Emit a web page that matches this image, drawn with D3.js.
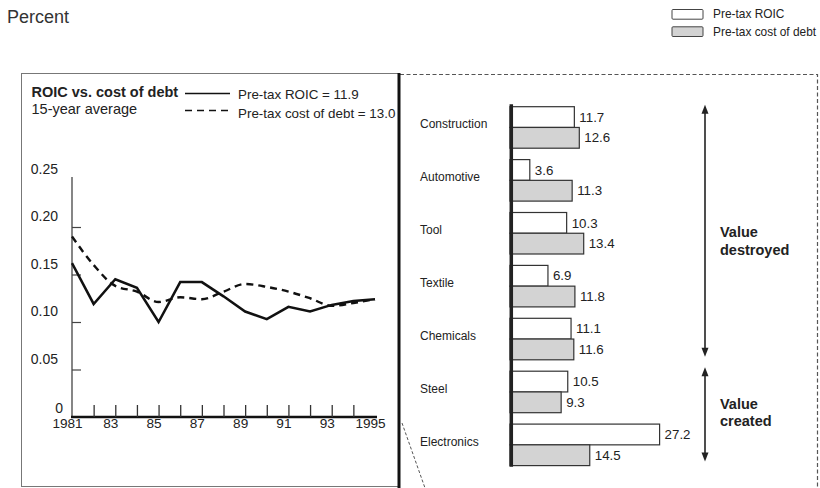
<!DOCTYPE html>
<html>
<head>
<meta charset="utf-8">
<script src="https://cdn.jsdelivr.net/npm/d3@7"></script>
<style>
  body { margin: 0; background: #fff; }
  svg { font-family: "Liberation Sans", Arial, sans-serif; }
</style>
</head>
<body>
<svg id="chart" width="820" height="488"></svg>
<script>
// left panel: 15-year series
var years = [1981, 1982, 1983, 1984, 1985, 1986, 1987, 1988, 1989, 1990, 1991, 1992, 1993, 1994, 1995];
var roic = [0.162, 0.119, 0.145, 0.136, 0.100, 0.142, 0.142, 0.127, 0.111, 0.103, 0.116, 0.111, 0.118, 0.122, 0.124];
var debt = [0.190, 0.160, 0.138, 0.132, 0.121, 0.126, 0.124, 0.132, 0.140, 0.137, 0.132, 0.125, 0.117, 0.120, 0.124];
var yTicks = [0, 0.05, 0.10, 0.15, 0.20, 0.25];
var yearLabels = {1981: "1981", 1983: "83", 1985: "85", 1987: "87", 1989: "89", 1991: "91", 1993: "93", 1995: "1995"};

// right panel: industries
var industries = ["Construction", "Automotive", "Tool", "Textile", "Chemicals", "Steel", "Electronics"];
var industryRoic = [11.7, 3.6, 10.3, 6.9, 11.1, 10.5, 27.2];
var industryDebt = [12.6, 11.3, 13.4, 11.8, 11.6, 9.3, 14.5];

var svg = d3.select("#chart");
var ink = "#222";

svg.append("text")
    .attr("x", 7).attr("y", 23)
    .attr("font-size", 18).attr("fill", "#333")
    .text("Percent");

// top right legend
var legend = svg.append("g");
[["Pre-tax ROIC", "#fff"], ["Pre-tax cost of debt", "#d3d3d3"]].forEach(function(d, i) {
    legend.append("rect")
        .attr("x", 672).attr("y", 9.5 + i * 17.3)
        .attr("width", 31).attr("height", 9.7)
        .attr("rx", 1)
        .attr("fill", d[1]).attr("stroke", "#444").attr("stroke-width", 1);
    legend.append("text")
        .attr("x", 713).attr("y", 18.3 + i * 17.3)
        .attr("font-size", 11.9).attr("fill", ink)
        .text(d[0]);
});

// frames
svg.append("rect")
    .attr("x", 21.5).attr("y", 73.5)
    .attr("width", 378).attr("height", 413)
    .attr("fill", "none").attr("stroke", "#777").attr("stroke-width", 1);
svg.append("path")
    .attr("d", "M400,74.5H817.5V488")
    .attr("fill", "none").attr("stroke", "#555")
    .attr("stroke-width", 1.2).attr("stroke-dasharray", "4,2.5");
svg.append("path")
    .attr("d", "M402,423L425,488")
    .attr("fill", "none").attr("stroke", "#555")
    .attr("stroke-width", 1).attr("stroke-dasharray", "3,2");
svg.append("line")
    .attr("x1", 399).attr("x2", 399).attr("y1", 73).attr("y2", 488)
    .attr("stroke", "#111").attr("stroke-width", 3);

// ---------- left chart ----------
var x = d3.scaleLinear().domain([1981, 1995]).range([72, 375]);
var y = d3.scaleLinear().domain([0, 0.25]).range([417, 179.5]);

var gy = svg.append("g")
    .attr("transform", "translate(72,0)")
    .call(d3.axisLeft(y)
        .tickValues(yTicks)
        .tickSizeInner(-9)
        .tickSizeOuter(0)
        .tickPadding(14)
        .tickFormat(function(d) { return d === 0 ? "0" : d3.format(".2f")(d); }));
gy.attr("font-size", 14).attr("font-family", null);
gy.select(".domain").attr("stroke", "#444").attr("stroke-width", 1.3)
    .attr("d", "M0," + y(0) + "V177");
gy.selectAll(".tick line")
    .attr("stroke", "#444").attr("stroke-width", 1.2)
    .filter(function(d) { return d === 0 || d === 0.25; }).remove();
gy.selectAll(".tick text")
    .attr("fill", ink)
    .attr("dy", function(d) { return d === 0 ? -5 : -6.5; })
    .attr("dx", function(d) { return d === 0 ? 5 : 0; });

var gx = svg.append("g")
    .attr("transform", "translate(0,417)")
    .call(d3.axisBottom(x)
        .tickValues(years)
        .tickSizeInner(-12)
        .tickSizeOuter(0)
        .tickPadding(1)
        .tickFormat(function(d) { return yearLabels[d] || ""; }));
gx.attr("font-size", 13.6).attr("font-family", null);
gx.select(".domain").attr("stroke", "#111").attr("stroke-width", 2.5)
    .attr("d", "M71,0H377");
gx.selectAll(".tick line")
    .attr("stroke", "#333").attr("stroke-width", 1.3)
    .filter(function(d) { return d === 1981 || d === 1995; }).remove();
gx.selectAll(".tick text").attr("fill", ink).attr("dx", -5).attr("y", 0).attr("dy", 10.5);

var line = d3.line()
    .x(function(d, i) { return x(years[i]); })
    .y(function(d) { return y(d); });

svg.append("path")
    .datum(debt)
    .attr("d", line.curve(d3.curveMonotoneX))
    .attr("fill", "none").attr("stroke", "#111")
    .attr("stroke-width", 2.4).attr("stroke-dasharray", "7,5");

svg.append("path")
    .datum(roic)
    .attr("d", line.curve(d3.curveLinear))
    .attr("fill", "none").attr("stroke", "#111")
    .attr("stroke-width", 2.5).attr("stroke-linejoin", "miter");

// header of left panel
svg.append("text")
    .attr("x", 31.5).attr("y", 96.7)
    .attr("font-size", 14.5).attr("font-weight", "bold").attr("fill", ink)
    .text("ROIC vs. cost of debt");
svg.append("text")
    .attr("x", 31.5).attr("y", 114.3)
    .attr("font-size", 14.5).attr("fill", ink)
    .text("15-year average");
svg.append("line")
    .attr("x1", 185).attr("x2", 230).attr("y1", 93.5).attr("y2", 93.5)
    .attr("stroke", "#111").attr("stroke-width", 1.6);
svg.append("line")
    .attr("x1", 185).attr("x2", 230).attr("y1", 110.5).attr("y2", 110.5)
    .attr("stroke", "#111").attr("stroke-width", 1.6).attr("stroke-dasharray", "7,5");
svg.append("text")
    .attr("x", 238).attr("y", 99.3)
    .attr("font-size", 13.4).attr("fill", ink)
    .text("Pre-tax ROIC = 11.9");
svg.append("text")
    .attr("x", 238).attr("y", 118.3)
    .attr("font-size", 13.4).attr("fill", ink)
    .text("Pre-tax cost of debt = 13.0");

// ---------- right chart ----------
var yb = d3.scaleBand().domain(industries).range([106.7, 465.6]).paddingInner(0.2155);
var ys = d3.scaleBand().domain(["roic", "debt"]).range([0, yb.bandwidth()]);
var xb = d3.scaleLinear().domain([0, 30]).range([510, 675]);

var rows = industries.map(function(name, i) {
    return {name: name, values: [
        {key: "roic", v: industryRoic[i]},
        {key: "debt", v: industryDebt[i]}
    ]};
});

var grp = svg.selectAll(".ind")
    .data(rows)
    .enter().append("g")
    .attr("class", "ind")
    .attr("transform", function(d) { return "translate(0," + yb(d.name) + ")"; });

grp.append("text")
    .attr("x", 420)
    .attr("y", yb.bandwidth() / 2 - 3.5)
    .attr("dy", "0.35em")
    .attr("font-size", 12).attr("fill", ink)
    .text(function(d) { return d.name; });

grp.selectAll("rect")
    .data(function(d) { return d.values; })
    .enter().append("rect")
    .attr("x", xb(0))
    .attr("y", function(d) { return ys(d.key); })
    .attr("width", function(d) { return xb(d.v) - xb(0); })
    .attr("height", ys.bandwidth())
    .attr("fill", function(d) { return d.key === "roic" ? "#fff" : "#d3d3d3"; })
    .attr("stroke", "#333").attr("stroke-width", 1.2);

grp.selectAll(".val")
    .data(function(d) { return d.values; })
    .enter().append("text")
    .attr("class", "val")
    .attr("x", function(d) { return xb(d.v) + 5; })
    .attr("y", function(d) { return ys(d.key) + ys.bandwidth() / 2; })
    .attr("dy", "0.35em")
    .attr("font-size", 13.3).attr("fill", ink)
    .text(function(d) { return d3.format(".1f")(d.v); });

svg.append("line")
    .attr("x1", 511.3).attr("x2", 511.3).attr("y1", 104.3).attr("y2", 466.7)
    .attr("stroke", "#222").attr("stroke-width", 3.5);

// value destroyed / created arrows
var bw = yb.bandwidth();
function arrow(y1, y2) {
    var ax = 705;
    svg.append("line")
        .attr("x1", ax).attr("x2", ax).attr("y1", y1 + 4).attr("y2", y2 - 4)
        .attr("stroke", "#222").attr("stroke-width", 1.6);
    svg.append("path")
        .attr("d", "M" + ax + "," + y1 + "l-3.5,9h7z")
        .attr("fill", "#222");
    svg.append("path")
        .attr("d", "M" + ax + "," + y2 + "l-3.5,-9h7z")
        .attr("fill", "#222");
}
arrow(yb("Construction") - 2, yb("Chemicals") + bw - 3);
arrow(yb("Steel") - 4, yb("Electronics") + bw - 4);

[["Value", 237], ["destroyed", 254.5], ["Value", 408.5], ["created", 426]].forEach(function(d) {
    svg.append("text")
        .attr("x", 720).attr("y", d[1])
        .attr("font-size", 14.5).attr("font-weight", "bold").attr("fill", ink)
        .text(d[0]);
});
</script>
</body>
</html>
